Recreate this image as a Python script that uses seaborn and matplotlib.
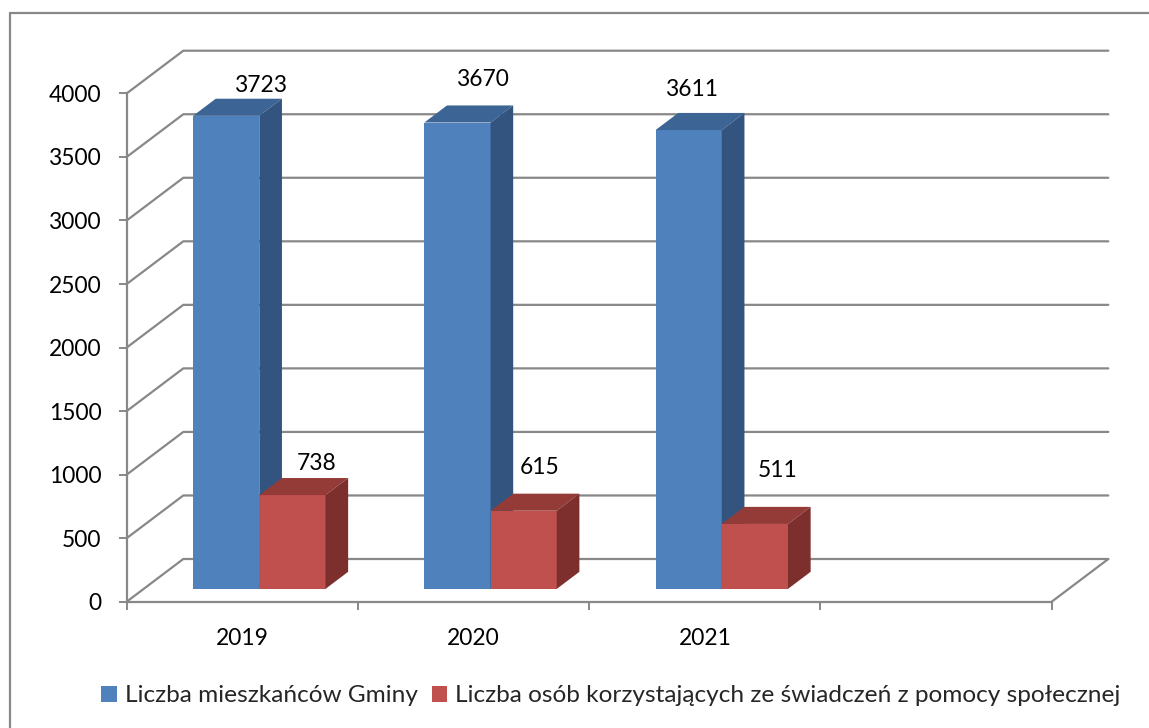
import numpy as np
import pandas as pd
import matplotlib
matplotlib.use("Agg")
import matplotlib.pyplot as plt
from matplotlib.patches import Polygon
from matplotlib.lines import Line2D
import seaborn as sns

# data
years = ["2019", "2020", "2021"]
residents = [3723, 3670, 3611]
beneficiaries = [738, 615, 511]
series_names = ["Liczba mieszkańców Gminy",
                "Liczba osób korzystających ze świadczeń z pomocy społecznej"]
y_ticks = list(range(0, 4001, 500))
n_slots = 4  # Excel leaves one empty category slot on the right

# styling
W, H = 1149, 728
GRID = "#888888"
FRONT = ["#4F81BD", "#C0504D"]
TOP = ["#3C6494", "#943B38"]
SIDE = ["#32547F", "#7D2F2D"]
FONT = ["Lato", "DejaVu Sans"]
FS = 16.4
LEGEND_FS = 17.6

# pixel -> data scale (front plane spans 925 px for 4 slots, 508 px for 0..4000)
px_x = n_slots / 925.0
px_y = 4000 / 508.3
DX, DY = 56.6 * px_x, 42.7 * px_y        # depth of the chart box
BAR_FRONT, BAR_DEPTH = 0.30, 0.40        # bar position within the depth

# manual label nudges (px right, px up) as placed in the original
label_nudge = [[(35, 30), (26, 43), (4, 41)],
               [(24, 32), (16, 43), (23, 53)]]

sns.set_theme(style="white")
plt.rcParams["font.family"] = FONT

df = pd.DataFrame({
    "year": years * 2,
    "series": [series_names[0]] * 3 + [series_names[1]] * 3,
    "value": residents + beneficiaries,
})

fig = plt.figure(figsize=(W / 100, H / 100), dpi=100)
ax = fig.add_axes([126.7 / W, 1 - 601.7 / H, 925 / W, 508.3 / H])

sns.barplot(data=df, x="year", y="value", hue="series", palette=FRONT,
            width=132.4 * px_x, gap=0, saturation=1, ax=ax, edgecolor="none",
            linewidth=0, zorder=3)

ax.set_xlim(-0.5, n_slots - 0.5)
ax.set_ylim(0, 4000)

# back wall + floor
for v in y_ticks:
    ax.plot([-0.5, -0.5 + DX, n_slots - 0.5 + DX], [v, v + DY, v + DY],
            color=GRID, lw=1.6, clip_on=False, zorder=1)
ax.plot([n_slots - 0.5, n_slots - 0.5 + DX], [0, DY], color=GRID, lw=1.6,
        clip_on=False, zorder=1)

# turn flat bars into boxes
fdx, fdy = BAR_FRONT * DX, BAR_FRONT * DY
bdx, bdy = BAR_DEPTH * DX, BAR_DEPTH * DY
bars = [p for p in ax.patches if p.get_height() > 0]
for i, p in enumerate(bars):
    s = i // len(years)
    j = i % len(years)
    x0 = p.get_x() + fdx
    w, h = p.get_width(), p.get_height()
    p.set_x(x0)
    p.set_y(fdy)
    p.set_zorder(3 + s)
    x1 = x0 + w
    top = fdy + h
    ax.add_patch(Polygon([(x0, top), (x1, top), (x1 + bdx, top + bdy), (x0 + bdx, top + bdy)],
                         closed=True, facecolor=TOP[s], edgecolor="none", zorder=3 + s,
                         clip_on=False))
    ax.add_patch(Polygon([(x1, fdy), (x1 + bdx, fdy + bdy), (x1 + bdx, top + bdy), (x1, top)],
                         closed=True, facecolor=SIDE[s], edgecolor="none", zorder=3 + s,
                         clip_on=False))
    ndx, ndy = label_nudge[s][j]
    ax.annotate(f"{int(h)}", (x0 + w / 2, top), xytext=(ndx * 0.72, ndy * 0.72),
                textcoords="offset points", ha="center", va="center",
                fontsize=FS, color="black", zorder=10, annotation_clip=False)

# axes look
for side in ["top", "right"]:
    ax.spines[side].set_visible(False)
for side in ["left", "bottom"]:
    ax.spines[side].set_color(GRID)
    ax.spines[side].set_linewidth(1.6)
    ax.spines[side].set_zorder(2)

ax.set_yticks(y_ticks)
ax.set_yticklabels([str(v) for v in y_ticks])
ax.tick_params(axis="y", which="major", length=6, width=1.4, color=GRID,
               direction="out", pad=12, labelsize=FS, labelcolor="black", left=True)
ax.set_xticks(range(len(years)))
ax.set_xticklabels(years)
ax.set_xticks(np.arange(-0.5, n_slots), minor=True)
ax.tick_params(axis="x", which="major", length=0, pad=19, labelsize=FS, labelcolor="black")
ax.tick_params(axis="x", which="minor", length=6, width=1.4, color=GRID,
               direction="out", bottom=True)
ax.set_xlabel("")
ax.set_ylabel("")
ax.grid(False)

sns.move_legend(ax, "center", bbox_to_anchor=(611 / W, 1 - 696 / H),
                bbox_transform=fig.transFigure, ncol=2, frameon=False, title=None,
                prop={"size": LEGEND_FS, "family": FONT},
                handlelength=0.62, handleheight=0.62,
                handletextpad=0.35, columnspacing=0.55)

# outer chart frame (cut off at right and bottom in the original)
fig.add_artist(Line2D([10 / W, 1], [1 - 13 / H, 1 - 13 / H], color=GRID, lw=1.6))
fig.add_artist(Line2D([10 / W, 10 / W], [0, 1 - 13 / H], color=GRID, lw=1.6))

fig.savefig("out.png", dpi=100, facecolor="white")
